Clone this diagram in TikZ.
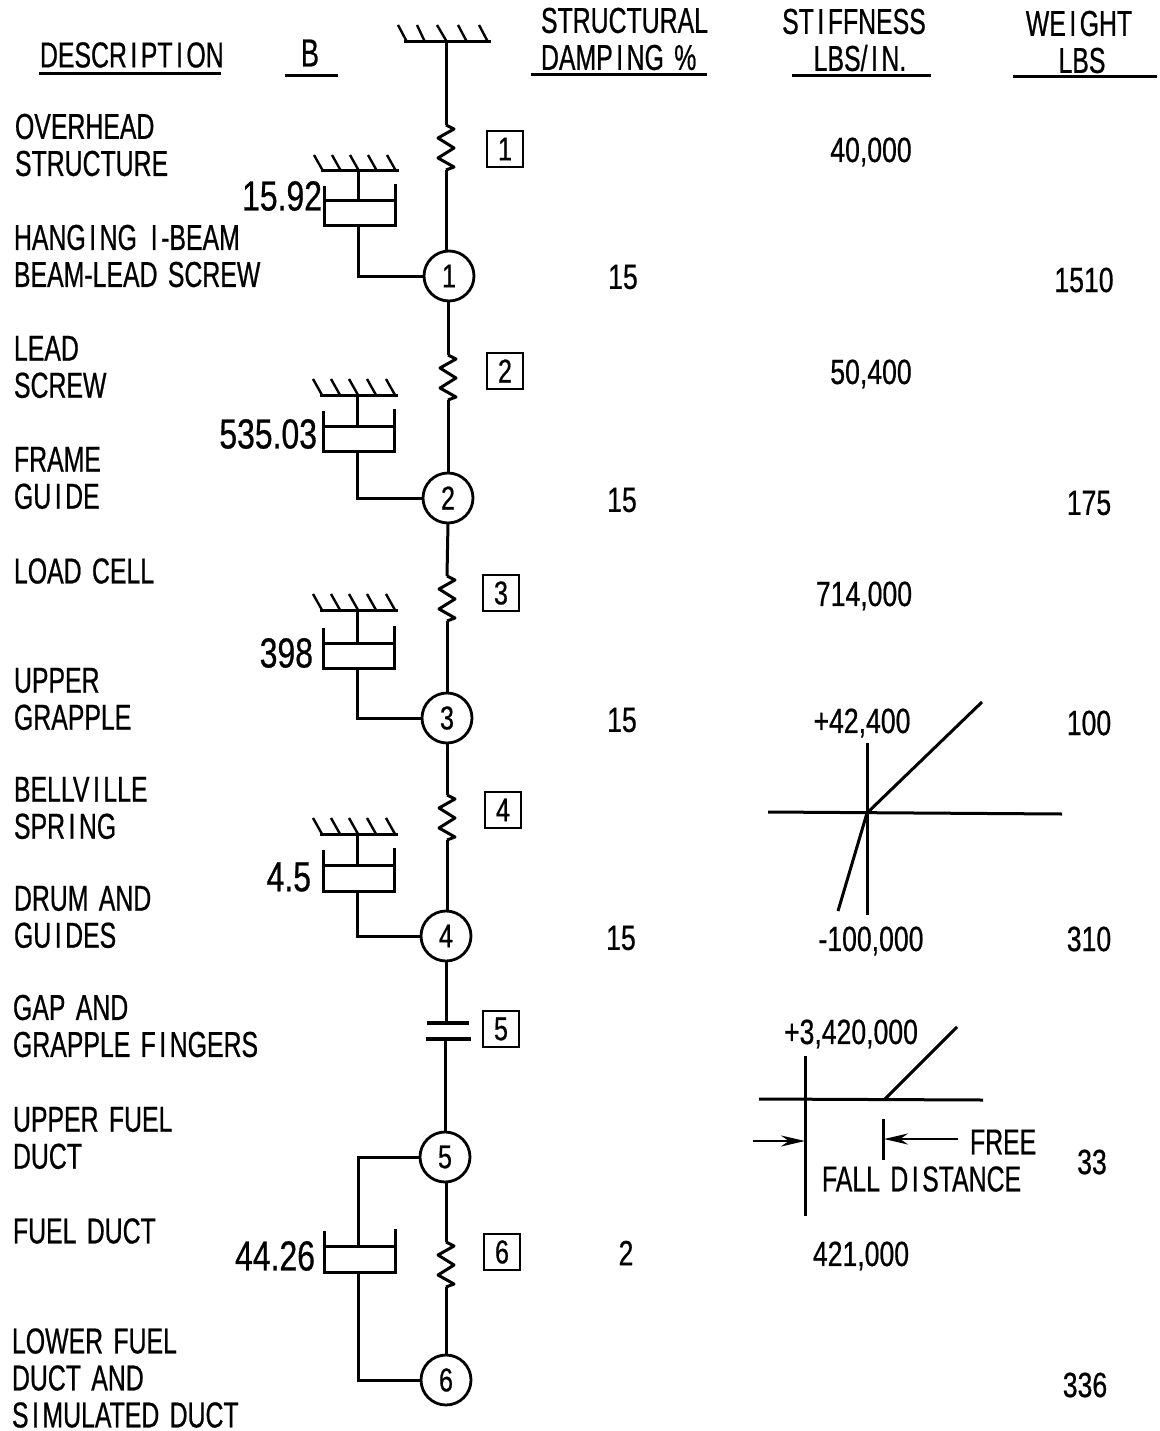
\documentclass[tikz,border=0pt]{standalone}
\usepackage{fontspec}
\usetikzlibrary{arrows.meta,calc}
\newfontfamily\labfam[FakeStretch=0.69,FakeBold=0.6,WordSpace=1.5]{Liberation Sans}
\newfontfamily\numfam[FakeStretch=0.76,FakeBold=0.6]{Liberation Sans}
% the typewriter-like open letter I of the reference lettering
\newcommand{\openI}{\hspace{3.5pt}I\hspace{3.5pt}}
\tikzset{
  every node/.style={inner sep=0pt,outer sep=0pt},
  ln/.style={line width=3pt,black},
  lab/.style={font=\labfam\fontsize{36}{37}\selectfont,align=left,anchor=west},
  hdr/.style={font=\labfam\fontsize{36}{37}\selectfont,anchor=center,align=center},
  num/.style={font=\numfam\fontsize{35}{37}\selectfont,anchor=center,align=center},
  bign/.style={font=\numfam\fontsize{42}{42}\selectfont,anchor=east},
  station/.style={circle,draw,line width=2.8pt,minimum size=50pt,fill=white,font=\numfam\fontsize{33}{33}\selectfont},
  tagbox/.style={rectangle,draw,line width=2.6pt,minimum size=36pt,font=\numfam\fontsize{33}{33}\selectfont},
  fix/.style={line width=2.4pt,black},
  arr/.style={line width=2.4pt,-{Stealth[length=24pt,width=11pt]}}
}
% spring: x, top y
\newcommand{\myspring}[2]{%
  \draw[ln,line join=round] (#1,#2) -- ++(8,4) -- ++(-16,9) -- ++(16,10) -- ++(-16,10) -- ++(16,9) -- ++(-8,3);}
% fixed ground hatching: x of rod, y of line
\newcommand{\myground}[2]{%
  \draw[ln] (#1-37,#2) -- (#1+41,#2);
  \foreach \d in {-44,-26,-8,10,29} \draw[fix] (#1+\d,#2-16) -- (#1+\d+9,#2);}
% cylinder: x of rod, piston y, bottom y
\newcommand{\mycyl}[3]{%
  \draw[ln] (#1-34,#2-15) -- (#1-34,#3) -- (#1+37,#3) -- (#1+37,#2-17);
  \draw[ln] (#1-34,#2) -- (#1+37,#2);}
\begin{document}
\begin{tikzpicture}[x=1pt,y=-1pt]
\useasboundingbox (0,0) rectangle (1159,1431);
\fill[white] (0,0) rectangle (1159,1431);

% column headers
\node[lab] (hdesc) at (40,55) {DESCR\openI{}PT\openI{}ON};
\node[hdr,font=\labfam\fontsize{39}{39}\selectfont] (hb) at (310,53) {B};
\node[lab] (hdamp) at (541,39) {STRUCTURAL\\DAMP\openI{}NG \%};
\node[hdr] (hstiff) at (854,40) {ST\openI{}FFNESS\\\hspace*{12pt}LBS/\openI{}N.};
\node[hdr] (hweight) at (1079,42) {WE\openI{}GHT\\\hspace*{6pt}LBS};
\draw[ln] (39,74) -- (221,74);
\draw[ln] (285,76) -- (338,76);
\draw[ln] (531,75) -- (707,75);
\draw[ln] (792,76) -- (931,76);
\draw[ln] (1013,77) -- (1157,77);

% descriptions
\node[lab] (d1) at (15,145) {OVERHEAD\\STRUCTURE};
\node[lab] (d2) at (14,256) {HANG\openI{}NG \openI{}-BEAM\\BEAM-LEAD SCREW};
\node[lab] (d3) at (14,367) {LEAD\\SCREW};
\node[lab] (d4) at (14,478) {FRAME\\GU\openI{}DE};
\node[lab] (d5) at (14,571) {LOAD CELL};
\node[lab] (d6) at (14,699) {UPPER\\GRAPPLE};
\node[lab] (d7) at (14,808) {BELLV\openI{}LLE\\SPR\openI{}NG};
\node[lab] (d8) at (14,917) {DRUM AND\\GU\openI{}DES};
\node[lab] (d9) at (13,1026) {GAP AND\\GRAPPLE F\openI{}NGERS};
\node[lab] (d10) at (13,1138) {UPPER FUEL\\DUCT};
\node[lab] (d11) at (13,1231) {FUEL DUCT};
\node[lab] (d12) at (12,1378) {LOWER FUEL\\DUCT AND\\S\openI{}MULATED DUCT};

% stations
\node[station] (n1) at (449,276) {1};
\node[station] (n2) at (448,498) {2};
\node[station] (n3) at (447,718) {3};
\node[station] (n4) at (446,936) {4};
\node[station] (n5) at (445,1157) {5};
\node[station] (n6) at (446,1380) {6};

% tags
\node[tagbox] (t1) at (505,149) {1};
\node[tagbox] (t2) at (505,371) {2};
\node[tagbox] (t3) at (501,593) {3};
\node[tagbox] (t4) at (503,810) {4};
\node[tagbox] (t5) at (501,1029) {5};
\node[tagbox] (t6) at (502,1252) {6};

% main column
\coordinate (top) at (446,42);
\draw[ln] (404,42) -- (491,42);
\foreach \xa/\xb in {398/407,417/425,437/447,458/467,479/488}
  \draw[fix] (\xa,25) -- (\xb,42);
\draw[ln] (top) -- (446,125);
\myspring{446}{125}
\draw[ln] (446,170) -- (n1.north -| 446,0);
\draw[ln] (n1.south -| 448,0) -- (448,355);
\myspring{448}{355}
\draw[ln] (448,400) -- (n2.north);
\draw[ln] (n2.south) -- (447,576);
\myspring{447}{576}
\draw[ln] (447,621) -- (n3.north);
\draw[ln] (n3.south) -- (447,795);
\myspring{447}{795}
\draw[ln] (447,840) -- (n4.north -| 447,0);
\coordinate (gaptop) at (446,1023);
\coordinate (gapbot) at (445,1039);
\draw[ln] (n4.south) -- (gaptop);
\draw[line width=3.4pt] (427,1023) -- (469,1023);
\draw[line width=3.8pt] (426,1039) -- (471,1039);
\draw[ln] (gapbot) -- (n5.north);
\draw[ln] (n5.south -| 446,0) -- (446,1242);
\myspring{446}{1242}
\draw[ln] (446,1287) -- (n6.north);

% dampers
\myground{358}{171}
\draw[ln] (358,171) -- (358,201);
\mycyl{358}{201}{226}
\draw[ln] (358,226) |- (n1.west);
\node[bign] (b1) at (322,196) {15.92};

\myground{357}{395}
\draw[ln] (357,395) -- (357,426);
\mycyl{357}{426}{451}
\draw[ln] (357,451) |- (n2.west);
\node[bign] (b2) at (317,434) {535.03};

\myground{357}{610}
\draw[ln] (357,610) -- (357,643);
\mycyl{357}{643}{668}
\draw[ln] (357,668) |- (n3.west);
\node[bign] (b3) at (313,653) {398};

\myground{357}{834}
\draw[ln] (357,834) -- (357,865);
\mycyl{357}{865}{891}
\draw[ln] (357,891) |- (n4.west);
\node[bign] (b4) at (311,877) {4.5};

\draw[ln] (n5.west) -| (358,1246);
\mycyl{358}{1246}{1272}
\draw[ln] (358,1272) |- (n6.west);
\node[bign] (b5) at (315,1256) {44.26};

% damping values
\node[num] (c1) at (623,277) {15};
\node[num] (c2) at (622,500) {15};
\node[num] (c3) at (622,720) {15};
\node[num] (c4) at (621,938) {15};
\node[num] (c5) at (626,1253) {2};

% stiffness values
\node[num] (k1) at (871,152) {40,000};
\node[num] (k2) at (871,374) {50,400};
\node[num] (k3) at (864,596) {714,000};
\node[num] (k4) at (862,723) {+42,400};
\node[num] (k5) at (871,941) {-100,000};
\node[num] (k6) at (851,1034) {+3,420,000};
\node[num] (k7) at (861,1256) {421,000};

% weights
\node[num] (w1) at (1084,280) {1510};
\node[num] (w2) at (1089,503) {175};
\node[num] (w3) at (1089,723) {100};
\node[num] (w4) at (1089,939) {310};
\node[num] (w5) at (1092,1162) {33};
\node[num] (w6) at (1085,1385) {336};

% stiffness graph 1
\draw[ln] (768,812) -- (1062,814);
\draw[ln] (867,743) -- (867,915);
\draw[ln] (982,702) -- (867,813) -- (838,911);

% stiffness graph 2
\draw[ln] (759,1099) -- (983,1100);
\draw[ln] (805,1056) -- (805,1216);
\draw[ln] (885,1099) -- (957,1027);
\draw[ln] (883,1119) -- (883,1160);
\coordinate (arL) at (753,1141);
\coordinate (tipL) at (805,1141);
\coordinate (arR) at (958,1139);
\coordinate (tipR) at (884,1139);
\draw[arr] (arL) -- (tipL);
\draw[arr] (arR) -- (tipR);
\node[lab] (free) at (970,1142) {FREE};
\node[lab] (fall) at (822,1179) {FALL D\openI{}STANCE};
\end{tikzpicture}
\end{document}
